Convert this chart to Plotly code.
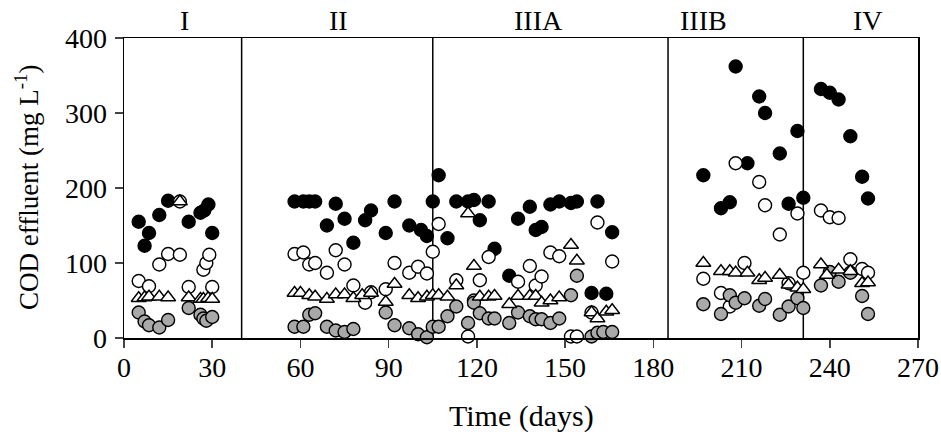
import plotly.graph_objects as go

# ---- data ----
black_days = [5, 7, 8.5, 12, 15, 22, 26, 27.3, 28.7, 30,
              58, 61, 63, 65, 69, 72, 75, 78, 82, 84, 89, 92, 97, 101, 103, 105, 107, 110,
              113, 117, 119, 121, 124, 126, 131, 134, 138, 140, 142, 145, 148, 152, 154, 159, 161, 164, 166,
              197, 203, 206, 208, 212, 216, 218, 223, 226, 229, 231, 237, 240, 243, 247, 251, 253]
black_vals = [155, 123, 140, 164, 183, 155, 167, 170, 178, 140,
              182, 182, 182, 182, 150, 179, 159, 127, 157, 170, 140, 182, 150, 144, 136, 182, 217, 133,
              182, 182, 184, 157, 182, 119, 83, 159, 175, 144, 148, 178, 182, 180, 182, 60, 182, 59, 141,
              217, 173, 181, 362, 233, 322, 300, 246, 179, 276, 187, 332, 327, 318, 269, 215, 186]

white_days = [5, 8.5, 12, 15, 19, 19, 22, 27, 28, 29, 30,
              58, 61, 63, 65, 69, 72, 75, 78, 82, 84, 89, 92, 97, 100, 103, 105, 107,
              113, 117, 119, 121, 124, 134, 138, 140, 142, 145, 148, 152, 154, 159, 161, 166,
              197, 203, 206, 208, 211, 216, 218, 223, 226, 229, 231, 237, 240, 243, 247, 251, 253]
white_vals = [76, 69, 98, 112, 111, 182, 68, 91, 100, 111, 68,
              112, 114, 98, 100, 87, 117, 98, 70, 47, 61, 65, 100, 87, 95, 86, 115, 152,
              77, 2, 50, 77, 108, 75, 96, 70, 82, 114, 109, 2, 2, 34, 154, 102,
              79, 60, 42, 233, 100, 208, 177, 138, 73, 166, 87, 170, 161, 160, 105, 92, 87]

tri_days = [5, 7, 8.5, 12, 15, 19, 22, 26, 27, 28.6, 30,
            58, 60, 63, 65, 69, 72, 75, 78, 81, 84, 89, 92, 97, 100, 103, 105, 107, 110,
            113, 117, 119, 121, 124, 126, 131, 134, 138, 140, 142, 145, 148, 152, 154, 159, 161, 164, 166,
            197, 203, 206, 208, 212, 216, 218, 223, 226, 229, 231, 237, 239, 243, 247, 251, 253]
tri_vals = [53, 54, 55, 55, 54, 182, 54, 52, 52, 53, 52,
            60, 60, 57, 55, 52, 58, 58, 53, 57, 60, 48, 72, 57, 53, 55, 57, 57, 55,
            70, 166, 96, 55, 55, 56, 45, 56, 56, 56, 47, 50, 54, 124, 103, 34, 26, 35, 37,
            100, 89, 89, 87, 87, 77, 80, 84, 71, 67, 65, 98, 84, 91, 89, 73, 74]

gray_days = [5, 7, 8.5, 12, 15, 22, 26, 27, 28, 30,
             58, 61, 63, 65, 69, 72, 75, 78, 89, 92, 97, 100, 103, 105, 107, 110,
             113, 117, 119, 121, 124, 126, 131, 134, 138, 140, 142, 145, 148, 152, 154, 159, 161, 163, 166,
             197, 203, 206, 208, 211, 216, 218, 223, 226, 229, 231, 237, 240, 243, 247, 251, 253]
gray_vals = [34, 22, 17, 14, 24, 40, 31, 26, 23, 28,
             15, 15, 31, 33, 15, 10, 8, 12, 34, 17, 13, 5, 1, 15, 15, 29,
             42, 20, 47, 33, 26, 26, 20, 34, 29, 25, 25, 20, 26, 57, 83, 2, 7, 8, 8,
             45, 32, 57, 47, 53, 43, 52, 31, 42, 53, 40, 70, 88, 75, 87, 56, 32]

phase_bounds = [40, 105, 185, 231]
phase_labels = ["I", "II", "IIIA", "IIIB", "IV"]
phase_label_x = [20.5, 73, 141, 197, 253]

x_ticks = [0, 30, 60, 90, 120, 150, 180, 210, 240, 270]
y_ticks = [0, 100, 200, 300, 400]

FONT = "Liberation Serif"
MS = 13
LW = 1.4
L, R, T, B = 124, 23, 38, 105
W, H = 941, 443
PW, PH = W - L - R, H - T - B

fig = go.Figure()

fig.add_trace(go.Scatter(x=black_days, y=black_vals, mode="markers", cliponaxis=False,
                         marker=dict(symbol="circle", size=MS, color="black",
                                     line=dict(color="black", width=LW))))
fig.add_trace(go.Scatter(x=white_days, y=white_vals, mode="markers", cliponaxis=False,
                         marker=dict(symbol="circle", size=MS, color="white",
                                     line=dict(color="black", width=LW))))
fig.add_trace(go.Scatter(x=gray_days, y=gray_vals, mode="markers", cliponaxis=False,
                         marker=dict(symbol="circle", size=MS, color="#a9a9a9",
                                     line=dict(color="black", width=LW))))
fig.add_trace(go.Scatter(x=tri_days, y=tri_vals, mode="markers", cliponaxis=False,
                         marker=dict(symbol="triangle-up", size=MS, color="white",
                                     line=dict(color="black", width=LW))))

for b in phase_bounds:
    fig.add_shape(type="line", x0=b, x1=b, y0=0, y1=400, xref="x", yref="y",
                  line=dict(color="black", width=1.5), layer="below")

for lx, lab in zip(phase_label_x, phase_labels):
    fig.add_annotation(x=lx, y=1.0, xref="x", yref="paper", text=lab, showarrow=False,
                       yanchor="bottom", yshift=0, font=dict(family=FONT, size=28, color="black"))

# axis titles
fig.add_annotation(x=0.5, y=-(416 - (T + PH)) / PH, xref="paper", yref="paper",
                   text="Time (days)", showarrow=False, xanchor="center", yanchor="middle",
                   font=dict(family=FONT, size=30, color="black"))
fig.add_annotation(x=-(L - 27) / PW, y=0.5, xref="paper", yref="paper",
                   text="COD effluent (mg L<sup>-1</sup>)", showarrow=False, textangle=-90,
                   xanchor="center", yanchor="middle",
                   font=dict(family=FONT, size=27, color="black"))

fig.update_layout(
    width=W, height=H,
    margin=dict(l=L, r=R, t=T, b=B),
    paper_bgcolor="white", plot_bgcolor="white",
    showlegend=False,
    font=dict(family=FONT, size=28, color="black"),
    xaxis=dict(range=[0, 270], tickvals=x_ticks, ticks="outside", ticklen=8, tickwidth=1.5,
               showline=True, mirror=True, linecolor="black", linewidth=1.5, showgrid=False,
               zeroline=False, automargin=False, ticklabelstandoff=-4,
               tickfont=dict(family=FONT, size=28)),
    yaxis=dict(range=[0, 400], tickvals=y_ticks, ticks="outside", ticklen=8, tickwidth=1.5,
               showline=True, mirror=True, linecolor="black", linewidth=1.5, showgrid=False,
               zeroline=False, automargin=False, ticklabelstandoff=2,
               tickfont=dict(family=FONT, size=28)),
)

fig.write_html("out.html", config={"displayModeBar": False, "staticPlot": True},
               post_script="document.body.style.margin='0px';document.body.style.overflow='hidden';")
